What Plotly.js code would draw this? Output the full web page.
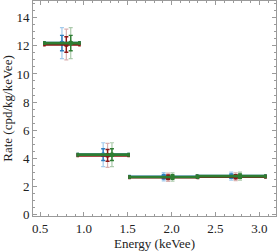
<!DOCTYPE html>
<html><head><meta charset="utf-8">
<script src="https://cdn.plot.ly/plotly-3.0.1.min.js"></script>
<style>html,body{margin:0;padding:0;background:#fff}#c{width:277px;height:252px}</style>
</head><body><div id="c"></div>
<script>
// Energy bins (keVee)
const binCenters = [0.75, 1.22, 1.91, 2.68];
const binHalfWidths = [0.20, 0.29, 0.39, 0.39];
const seriesNames = ["Set A", "Set B", "Set C"];
const xOffsets = [0.0, 0.05, 0.10];
// rates (cpd/kg/keVee)
const rateA = [12.2, 4.25, 2.68, 2.72];
const rateB = [12.1, 4.2, 2.64, 2.68];
const rateC = [12.2, 4.25, 2.66, 2.72];
// statistical errors
const statA = [0.55, 0.42, 0.16, 0.15];
const statB = [0.55, 0.42, 0.16, 0.15];
const statC = [0.55, 0.42, 0.16, 0.15];
// total (outer) errors
const totA = [1.1, 0.85, 0.3, 0.28];
const totB = [1.1, 0.85, 0.3, 0.28];
const totC = [1.1, 0.85, 0.3, 0.28];

const rates = [rateA, rateB, rateC];
const stats = [statA, statB, statC];
const tots = [totA, totB, totC];
const dark = ["#2f7fc0", "#8c1515", "#2e7d32"];
const light = ["rgba(90,160,220,0.55)", "rgba(170,80,80,0.45)", "rgba(90,150,90,0.5)"];

const traces = [];
for (let s = 0; s < 3; s++) {
  const xs = binCenters.map((c) => c + xOffsets[s]);
  traces.push({
    x: xs, y: rates[s], type: 'scatter', mode: 'markers', showlegend: false,
    marker: {size: 0.1, color: light[s]},
    error_y: {type: 'data', array: tots[s], visible: true, color: light[s], thickness: 1.2, width: 2}
  });
}
for (let s = 0; s < 3; s++) {
  const xs = binCenters.map((c) => c + xOffsets[s]);
  traces.push({
    x: xs, y: rates[s], type: 'scatter', mode: 'markers', name: seriesNames[s], showlegend: false,
    marker: {size: 5, color: dark[s]},
    error_x: {type: 'data', symmetric: false,
      array: binHalfWidths.map(h => h - xOffsets[s]),
      arrayminus: binHalfWidths.map(h => h + xOffsets[s]),
      visible: true, color: dark[s], thickness: 2.6, width: 2},
    error_y: {type: 'data', array: stats[s], visible: true, color: dark[s], thickness: 1.4, width: 2}
  });
}

const fontFam = 'Liberation Serif, Times New Roman, serif';
const axisCommon = {
  showline: true, linecolor: '#9a9a9a', linewidth: 1, mirror: 'ticks',
  ticks: 'inside', ticklen: 4, tickcolor: '#9a9a9a', tickwidth: 1,
  showgrid: false, zeroline: false,
  tickfont: {family: fontFam, size: 13, color: '#222'}
};
const layout = {
  width: 277, height: 252,
  margin: {l: 33, r: 1, t: 1, b: 36},
  paper_bgcolor: '#fff', plot_bgcolor: '#fff',
  xaxis: Object.assign({}, axisCommon, {
    range: [0.42, 3.19], tickvals: [0.5, 1.0, 1.5, 2.0, 2.5, 3.0],
    ticktext: ['0.5', '1.0', '1.5', '2.0', '2.5', '3.0'],
    minor: {dtick: 0.1, ticklen: 2, tickcolor: '#9a9a9a', ticks: 'inside'},
    title: {text: 'Energy (keVee)', standoff: 2, font: {family: fontFam, size: 13, color: '#222'}}
  }),
  yaxis: Object.assign({}, axisCommon, {
    range: [-0.12, 15.2], tickvals: [0, 2, 4, 6, 8, 10, 12, 14],
    minor: {dtick: 0.5, ticklen: 2, tickcolor: '#9a9a9a', ticks: 'inside'},
    title: {text: 'Rate (cpd/kg/keVee)', standoff: 2, font: {family: fontFam, size: 13, color: '#222'}}
  })
};
Plotly.newPlot('c', traces, layout, {displayModeBar: false, staticPlot: true});
</script></body></html>
